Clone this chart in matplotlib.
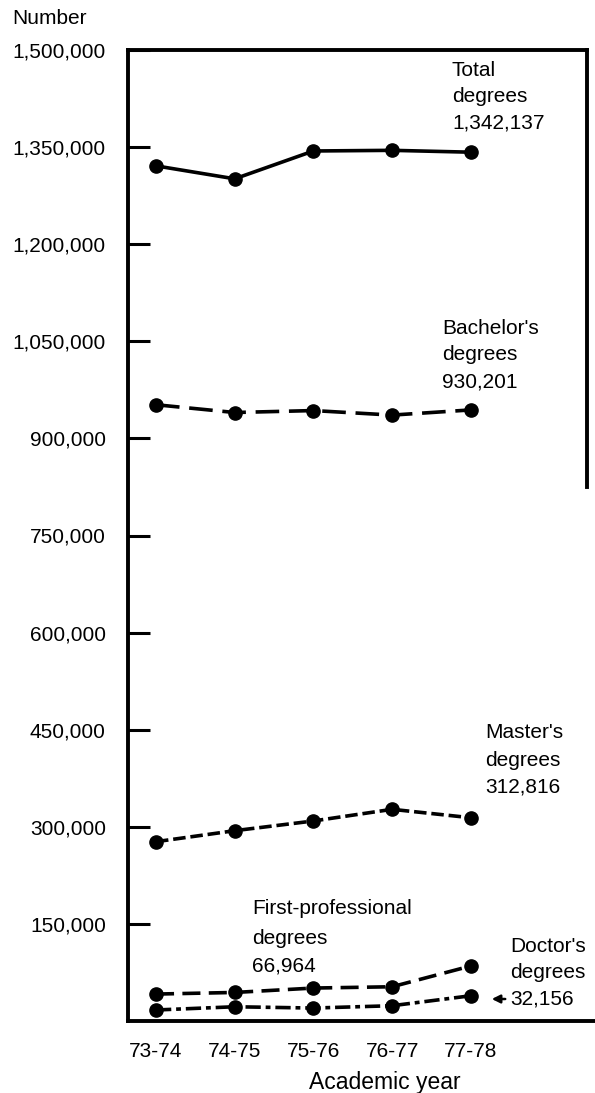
import matplotlib
matplotlib.use("Agg")
import matplotlib.pyplot as plt

plt.rcParams['font.family'] = ['Liberation Sans', 'DejaVu Sans']
plt.rcParams['lines.scale_dashes'] = False

years = ["73-74", "74-75", "75-76", "76-77", "77-78"]
total = [1321000, 1301000, 1344000, 1345000, 1342137]
bachelor = [952000, 940000, 943000, 936000, 944000]
master = [277000, 294000, 309000, 327000, 314000]
first_prof = [41600, 44100, 50900, 52900, 85000]
doctor = [17000, 22000, 20000, 23600, 39000]
yticks = [150000, 300000, 450000, 600000, 750000, 900000, 1050000, 1200000, 1350000, 1500000]

fig = plt.figure(figsize=(5.95, 10.93), dpi=100)
W, H = 595, 1093
x0, x1, y0, y1 = 128, 595, 50, 1021
ax = fig.add_axes([x0 / W, 1 - y1 / H, (x1 - x0) / W, (y1 - y0) / H])

xs = list(range(len(years)))
mk = dict(marker='o', markersize=9.5, color='black', lw=2.6)
ax.plot(xs, total, linestyle='-', **mk)
ax.plot(xs, bachelor, dashes=(17, 7), **mk)
ax.plot(xs, master, dashes=(9, 3.5), **mk)
ax.plot(xs, first_prof, dashes=(13, 6), **mk)
ax.plot(xs, doctor, dashes=(11, 3.5, 3.5, 3.5), **mk)

step = 78.7
ax.set_xlim((x0 - 156) / step, (x1 - 156) / step)
ax.set_ylim(0, 1500000)

for s in ['left', 'top', 'bottom']:
    ax.spines[s].set_linewidth(2.8)
ax.spines['right'].set_visible(False)
xr = (587 - 156) / step
ax.axvline(xr, ymin=0.55, ymax=1.0, color='black', lw=2.8, clip_on=False)
ax.plot([(x0 - 156) / step, xr], [1500000, 1500000], color='black', lw=2.8, clip_on=False)
ax.spines['top'].set_visible(False)

fs = 15
ax.set_yticks(yticks)
ax.set_yticklabels([f"{v:,}" for v in yticks], fontsize=fs)
ax.tick_params(axis='y', direction='in', length=16, width=2.2, pad=16)
ax.set_xticks(xs)
ax.set_xticklabels(years, fontsize=fs)
ax.tick_params(axis='x', length=0, pad=15)

def lbl(px, py, s, ha='left', size=fs):
    fig.text(px / W, 1 - py / H, s, fontsize=size, ha=ha, va='center')

lbl(12, 19, "Number")
for (px, lines, ys) in [
    (452, ["Total", "degrees", "1,342,137"], [70, 97, 123]),
    (442, ["Bachelor's", "degrees", "930,201"], [328, 355, 382]),
    (485, ["Master's", "degrees", "312,816"], [733, 760, 787]),
    (252, ["First-professional", "degrees", "66,964"], [908, 938, 966]),
    (510, ["Doctor's", "degrees", "32,156"], [947, 973, 999]),
]:
    for t, yy in zip(lines, ys):
        lbl(px, yy, t)

lbl(385, 1083, "Academic year", ha='center', size=16.5)
fig.add_artist(matplotlib.patches.FancyArrowPatch(
    (508 / W, 1 - 999 / H), (489 / W, 1 - 999 / H), transform=fig.transFigure,
    arrowstyle='-|>', mutation_scale=12, color='black', lw=1.8))

fig.savefig("out.png", dpi=100, facecolor='white')
